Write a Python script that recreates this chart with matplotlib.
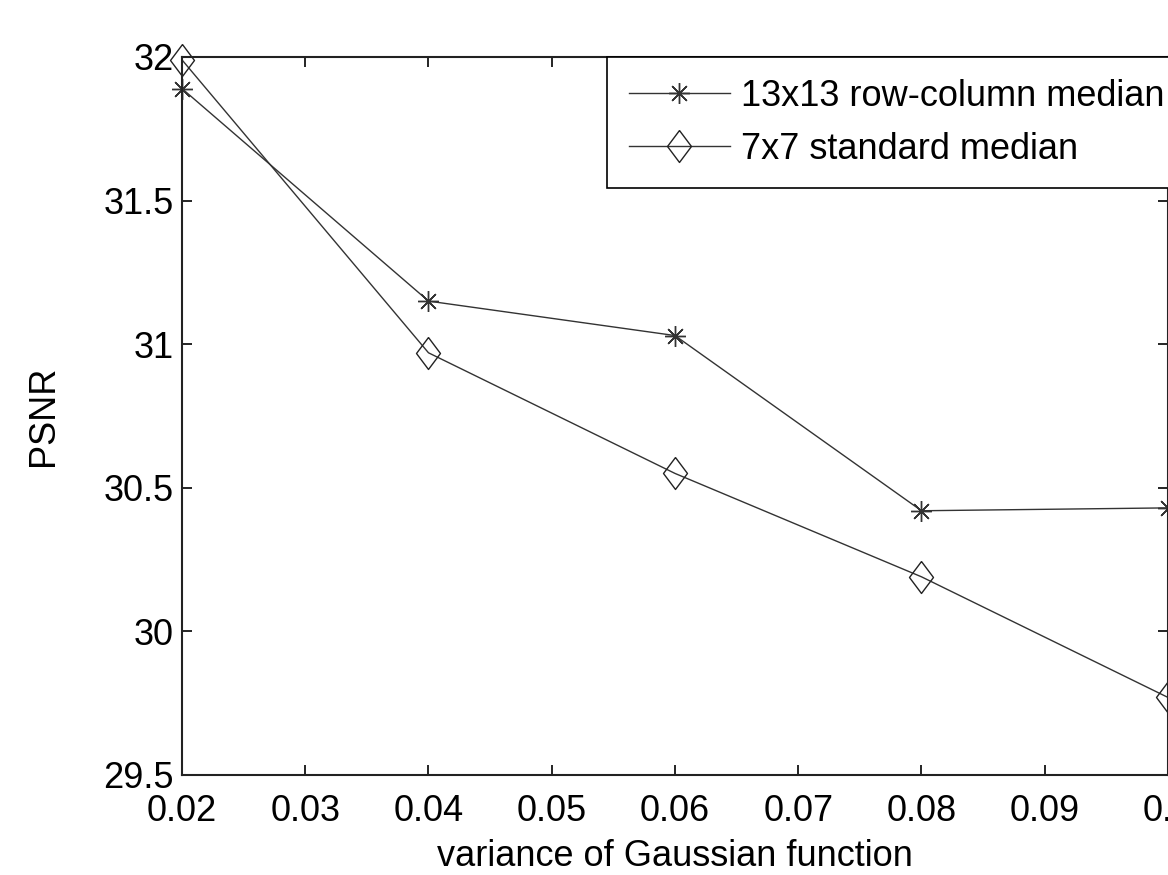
import matplotlib
matplotlib.use('Agg')
import matplotlib.pyplot as plt

variance = [0.02, 0.04, 0.06, 0.08, 0.10]
psnr_rowcol = [31.89, 31.15, 31.03, 30.42, 30.43]
psnr_std = [31.99, 30.97, 30.55, 30.19, 29.77]
labels = ['13x13 row-column median', '7x7 standard median']

plt.rcParams['font.family'] = ['Liberation Sans', 'DejaVu Sans']

# matlab-like diamond: a bit wider than matplotlib's thin diamond
diamond = [(0, 1), (0.75, 0), (0, -1), (-0.75, 0), (0, 1)]

fig = plt.figure(figsize=(11.68, 8.75), dpi=100)
ax = fig.add_axes([0.1558, 0.1143, 0.8442, 0.8206])

ax.plot(variance, psnr_rowcol, color='#333333', linewidth=1.0,
        marker=(8, 2, 0), markersize=15, markeredgewidth=1.0,
        markeredgecolor='#333333', label=labels[0], clip_on=False)
ax.plot(variance, psnr_std, color='#333333', linewidth=1.0,
        marker=diamond, markersize=23, markeredgewidth=1.0,
        markerfacecolor='none', markeredgecolor='#222222',
        label=labels[1], clip_on=False)

ax.set_xlim(0.02, 0.1)
ax.set_ylim(29.5, 32)
ax.set_xticks([0.02, 0.03, 0.04, 0.05, 0.06, 0.07, 0.08, 0.09, 0.1])
ax.set_xticklabels(['0.02', '0.03', '0.04', '0.05', '0.06', '0.07', '0.08', '0.09', '0.1'])
ax.set_yticks([29.5, 30, 30.5, 31, 31.5, 32])
ax.set_yticklabels(['29.5', '30', '30.5', '31', '31.5', '32'])
ax.tick_params(direction='in', length=7, width=1.2, labelsize=26,
               top=True, right=True)
ax.tick_params(axis='x', pad=14)
ax.tick_params(axis='y', pad=6)
for s in ax.spines.values():
    s.set_linewidth(1.5)
    s.set_color('#222222')

ax.set_xlabel('variance of Gaussian function', fontsize=26, labelpad=7)
ax.set_ylabel('PSNR', fontsize=26, labelpad=30)

leg = ax.legend(loc='upper left', bbox_to_anchor=(0.431, 1.0), fontsize=26,
                frameon=True, fancybox=False, framealpha=1, edgecolor='black',
                handlelength=2.8, handletextpad=0.3, borderpad=0.6,
                labelspacing=0.5, borderaxespad=0)
leg.get_frame().set_linewidth(1.2)

fig.savefig('out.png', dpi=100)
